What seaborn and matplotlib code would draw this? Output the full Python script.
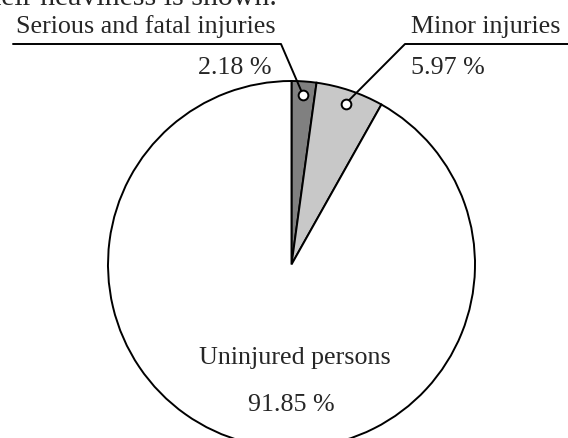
import matplotlib
matplotlib.use("Agg")
import matplotlib.pyplot as plt
import seaborn as sn
import numpy as np

# data
labels = ['Serious and fatal injuries', 'Minor injuries', 'Uninjured persons']
shares = [2.18, 5.97, 91.85]
colors = ['#808080', '#c8c8c8', '#ffffff']

W, H = 568, 438
sn.set_theme(style="white")
plt.rcParams['font.family'] = ['Liberation Serif', 'DejaVu Serif']

fig = plt.figure(figsize=(W / 100, H / 100), dpi=100)
ax = fig.add_axes([0, 0, 1, 1])


def Y(y):
    # pixel row -> data y
    return H - y


cx, cy, R = 291.5, Y(264.5), 183.5
wedges, _ = ax.pie(shares, colors=colors, startangle=90, counterclock=False,
                   center=(cx, cy), radius=R, frame=True,
                   wedgeprops=dict(edgecolor='black', linewidth=1.4))
ax.set_xlim(0, W)
ax.set_ylim(0, H)
ax.set_aspect('equal')
ax.axis('off')

fs = 18.7
lw = 1.4

# dots at the middle of the two small wedges
dots = []
for w in wedges[:2]:
    mid = np.deg2rad((w.theta1 + w.theta2) / 2)
    dots.append((cx + 0.925 * R * np.cos(mid), cy + 0.925 * R * np.sin(mid)))

# Serious and fatal injuries
ax.plot([13, 281, dots[0][0]], [Y(44), Y(44), dots[0][1]], color='black', lw=lw, zorder=3)
ax.text(16, Y(33), labels[0], fontsize=fs, ha='left', va='baseline')
ax.text(271, Y(68), f'{shares[0]:.2f} %', fontsize=fs, ha='right', va='center')

# Minor injuries
ax.plot([W, 405, dots[1][0]], [Y(44), Y(44), dots[1][1]], color='black', lw=lw, zorder=3)
ax.text(411, Y(33), labels[1], fontsize=fs, ha='left', va='baseline')
ax.text(411, Y(68), f'{shares[1]:.2f} %', fontsize=fs, ha='left', va='center')

for (dx, dy) in dots:
    ax.plot(dx, dy, 'o', ms=7, mfc='white', mec='black', mew=1.4, zorder=4)

# Uninjured persons
ax.text(cx + 3, Y(358), labels[2], fontsize=fs, ha='center', va='center')
ax.text(cx, Y(405), f'{shares[2]:.2f} %', fontsize=fs, ha='center', va='center')

# clipped caption line at the top
ax.text(277, Y(5), 'their heaviness is shown.', fontsize=21.5, ha='right', va='baseline')

fig.savefig('out.png', dpi=100)
